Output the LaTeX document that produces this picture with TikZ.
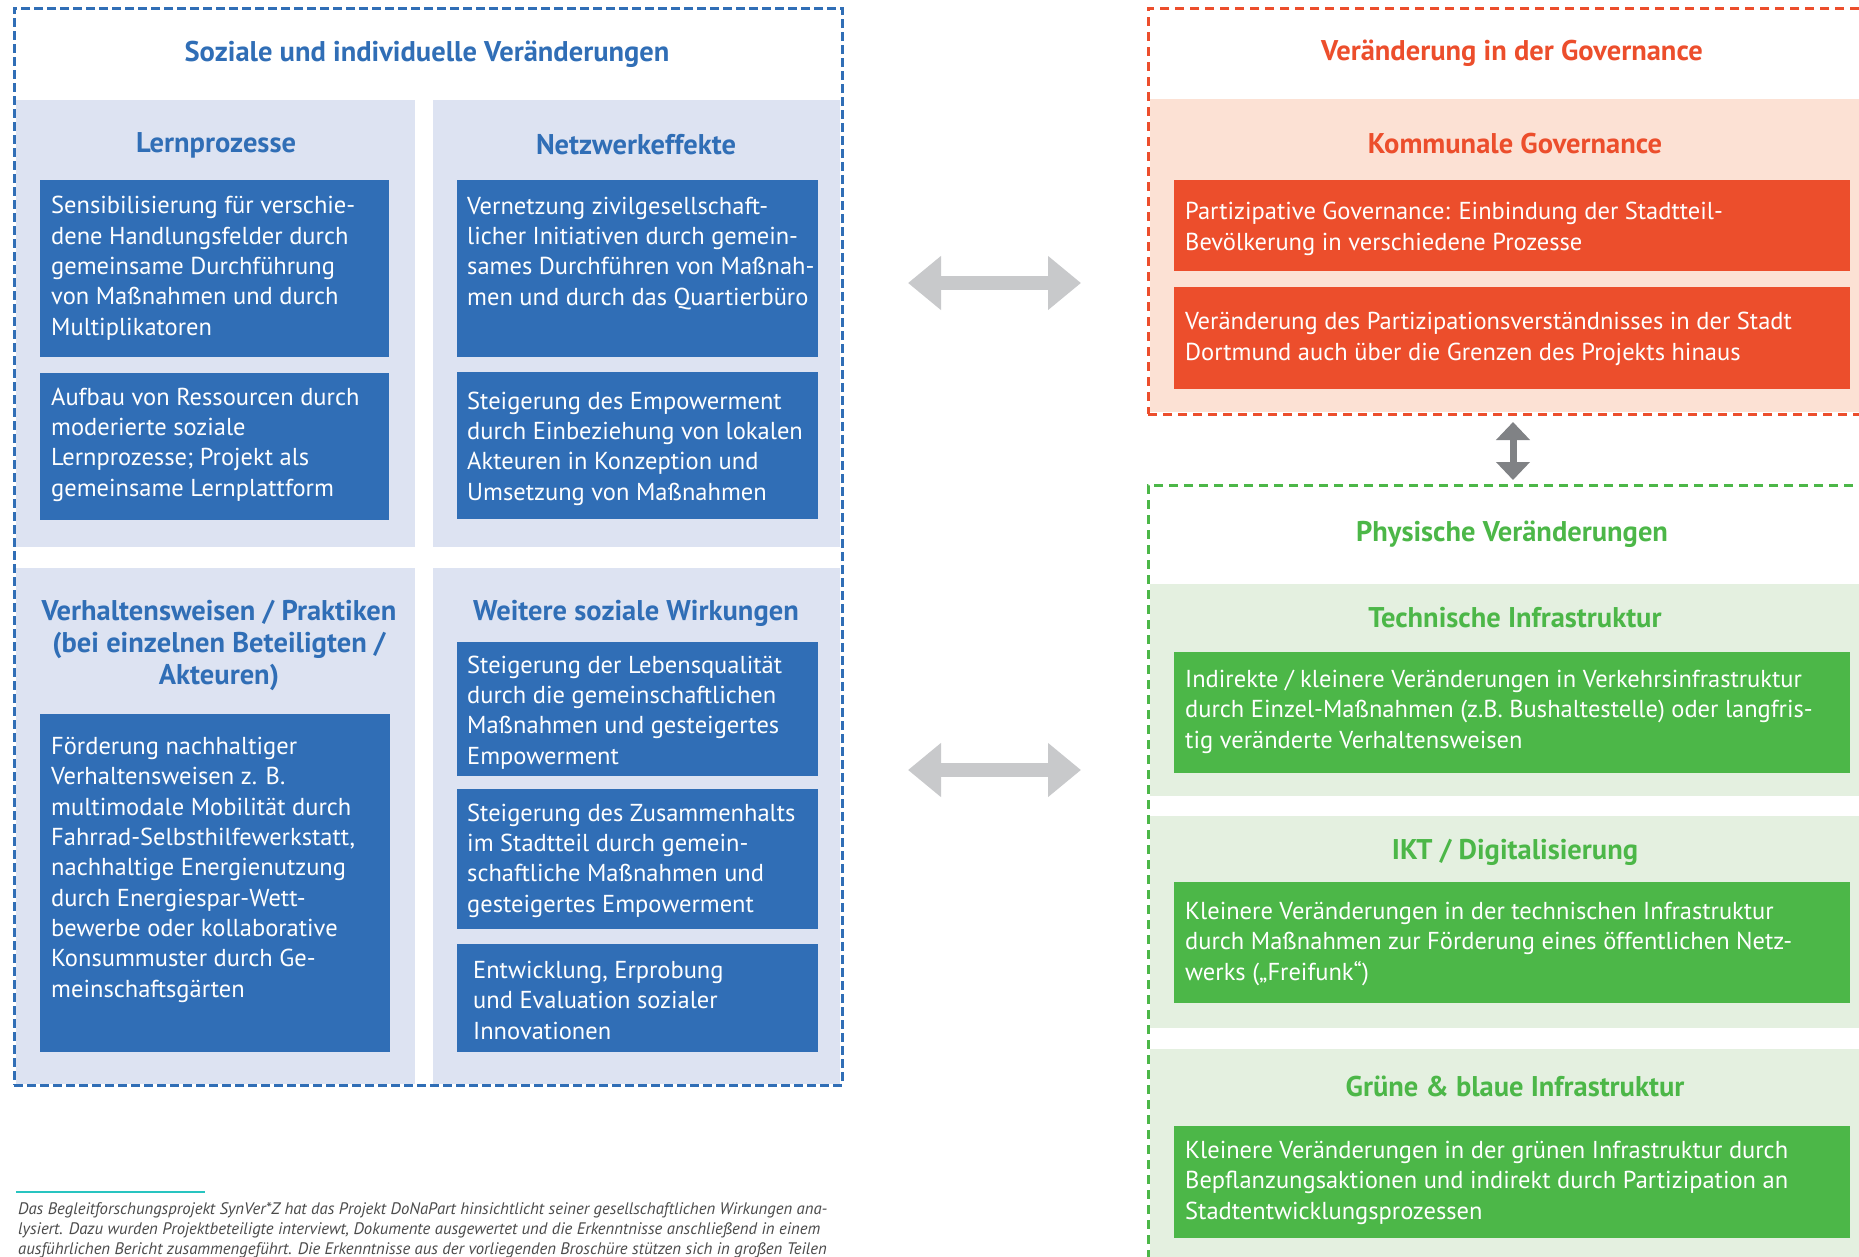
\documentclass[tikz,border=0pt]{standalone}
\usepackage{fontspec}
\setmainfont{PT Sans}
\usetikzlibrary{arrows.meta}

\definecolor{sozBlue}{RGB}{48,110,182}
\definecolor{sozLight}{RGB}{221,227,242}
\definecolor{govRed}{RGB}{236,78,44}
\definecolor{govLight}{RGB}{252,225,212}
\definecolor{phyGreen}{RGB}{76,183,72}
\definecolor{phyLight}{RGB}{228,240,224}
\definecolor{arrowGray}{RGB}{200,201,203}
\definecolor{arrowDark}{RGB}{128,130,133}
\definecolor{lineTeal}{RGB}{40,196,192}
\definecolor{footGray}{RGB}{75,75,75}

\begin{document}
\begin{tikzpicture}[x=1pt, y=-1pt,
    panel/.style={
        anchor=north west,
        inner sep=0pt,
        outer sep=0pt
    },
    frame/.style={
        panel,
        line width=3pt
    },
    block/.style={
        panel,
        minimum width=676pt
    },
    % base = Grundlinie der letzten Zeile
    boxtext/.style={
        anchor=base west,
        inner sep=0pt,
        align=left,
        text=white,
        font=\fontsize{24.5}{30.3}\selectfont
    },
    heading/.style={
        inner sep=0pt,
        align=center,
        font=\bfseries\fontsize{28.5}{32}\selectfont
    },
    bigarrow/.style={
        line width=14pt,
        draw=arrowGray,
        >={Triangle[length=33pt,width=52pt]},
        <->
    }
]
\useasboundingbox (0,0) rectangle (1859,1256);

%%%%%%%%%%%%%%%%%%%%%%%%
% Soziale und individuelle Veraenderungen
%%%%%%%%%%%%%%%%%%%%%%%%

% --- Felder ---
\node[panel, fill=sozLight, minimum width=399pt, minimum height=447pt] (pLern) at (16,100) {};
\node[panel, fill=sozLight, minimum width=407pt, minimum height=447pt] (pNetz) at (433,100) {};
\node[panel, fill=sozLight, minimum width=399pt, minimum height=516pt] (pVerh) at (16,568) {};
\node[panel, fill=sozLight, minimum width=407pt, minimum height=516pt] (pWeit) at (433,568) {};

\node[frame, draw=sozBlue, dash pattern=on 9pt off 4pt,
      minimum width=828pt, minimum height=1077pt] (soziale) at (14,8) {};

% --- Ueberschriften ---
\node[heading, text=sozBlue] (tSoziale) at (427,54) {Soziale und individuelle Veränderungen};
\node[heading, text=sozBlue] (tLern) at (216,145) {Lernprozesse};
\node[heading, text=sozBlue] (tNetz) at (636,145) {Netzwerkeffekte};
\node[heading, text=sozBlue] (tVerh) at (219,645) {Verhaltensweisen / Praktiken\\(bei einzelnen Beteiligten /\\Akteuren)};
\node[heading, text=sozBlue] (tWeit) at (636,613) {Weitere soziale Wirkungen};

% --- Kaesten ---
\node[panel, fill=sozBlue, minimum width=349pt, minimum height=177pt] (lern1) at (40,180) {};
\node[panel, fill=sozBlue, minimum width=349pt, minimum height=147pt] (lern2) at (40,373) {};
\node[panel, fill=sozBlue, minimum width=361pt, minimum height=177pt] (netz1) at (457,180) {};
\node[panel, fill=sozBlue, minimum width=361pt, minimum height=147pt] (netz2) at (457,372) {};
\node[panel, fill=sozBlue, minimum width=350pt, minimum height=338pt] (verh1) at (40,714) {};
\node[panel, fill=sozBlue, minimum width=361pt, minimum height=134pt] (weit1) at (457,642) {};
\node[panel, fill=sozBlue, minimum width=361pt, minimum height=140pt] (weit2) at (457,789) {};
\node[panel, fill=sozBlue, minimum width=361pt, minimum height=108pt] (weit3) at (457,944) {};

\node[boxtext] (lern1t) at (51,335) {Sensibilisierung für verschie-\\dene Handlungsfelder durch\\gemeinsame Durchführung\\von Maßnahmen und durch\\Multiplikatoren};
\node[boxtext] (lern2t) at (51,496) {Aufbau von Ressourcen durch\\moderierte soziale\\Lernprozesse; Projekt als\\gemeinsame Lernplattform};
\node[boxtext] (netz1t) at (467,305) {Vernetzung zivilgesellschaft-\\licher Initiativen durch gemein-\\sames Durchführen von Maßnah-\\men und durch das Quartierbüro};
\node[boxtext] (netz2t) at (467,500) {Steigerung des Empowerment\\durch Einbeziehung von lokalen\\Akteuren in Konzeption und\\Umsetzung von Maßnahmen};
\node[boxtext] (verh1t) at (51,997) {Förderung nachhaltiger\\Verhaltensweisen z. B.\\multimodale Mobilität durch\\Fahrrad-Selbsthilfewerkstatt,\\nachhaltige Energienutzung\\durch Energiespar-Wett-\\bewerbe oder kollaborative\\Konsummuster durch Ge-\\meinschaftsgärten};
\node[boxtext] (weit1t) at (467,764) {Steigerung der Lebensqualität\\durch die gemeinschaftlichen\\Maßnahmen und gesteigertes\\Empowerment};
\node[boxtext] (weit2t) at (467,912) {Steigerung des Zusammenhalts\\im Stadtteil durch gemein-\\schaftliche Maßnahmen und\\gesteigertes Empowerment};
\node[boxtext] (weit3t) at (473,1039) {Entwicklung, Erprobung\\und Evaluation sozialer\\Innovationen};

%%%%%%%%%%%%%%%%%%%%%%%%
% Veraenderung in der Governance
%%%%%%%%%%%%%%%%%%%%%%%%

\node[panel, fill=govLight, minimum width=720pt, minimum height=313pt] (pKomm) at (1150,99) {};
\node[frame, draw=govRed, dash pattern=on 9pt off 6pt,
      minimum width=760pt, minimum height=406pt] (governance) at (1148,8) {};

\node[heading, text=govRed] (tGov) at (1512,53) {Veränderung in der Governance};
\node[heading, text=govRed] (tKomm) at (1515,144) {Kommunale Governance};

\node[block, fill=govRed, minimum height=91pt] (komm1) at (1174,180) {};
\node[block, fill=govRed, minimum height=102pt] (komm2) at (1174,287) {};

\node[boxtext] (komm1t) at (1185,250) {Partizipative Governance: Einbindung der Stadtteil-\\Bevölkerung in verschiedene Prozesse};
\node[boxtext] (komm2t) at (1185,360) {Veränderung des Partizipationsverständnisses in der Stadt\\Dortmund auch über die Grenzen des Projekts hinaus};

%%%%%%%%%%%%%%%%%%%%%%%%
% Physische Veraenderungen
%%%%%%%%%%%%%%%%%%%%%%%%

\node[panel, fill=phyLight, minimum width=720pt, minimum height=212pt] (pTech) at (1150,584) {};
\node[panel, fill=phyLight, minimum width=720pt, minimum height=212pt] (pIkt) at (1150,816) {};
\node[panel, fill=phyLight, minimum width=720pt, minimum height=260pt] (pGruen) at (1150,1049) {};
\node[frame, draw=phyGreen, dash pattern=on 9pt off 6pt,
      minimum width=760pt, minimum height=850pt] (physisch) at (1148,485) {};

\node[heading, text=phyGreen] (tPhy) at (1512,534) {Physische Veränderungen};
\node[heading, text=phyGreen] (tTech) at (1515,618) {Technische Infrastruktur};
\node[heading, text=phyGreen] (tIkt) at (1515,852) {IKT / Digitalisierung};
\node[heading, text=phyGreen] (tGruen) at (1515,1086) {Grüne \& blaue Infrastruktur};

\node[block, fill=phyGreen, minimum height=121pt] (tech1) at (1174,652) {};
\node[block, fill=phyGreen, minimum height=121pt] (ikt1) at (1174,882) {};
\node[block, fill=phyGreen, minimum height=112pt] (gruen1) at (1174,1126) {};

\node[boxtext] (tech1t) at (1185,748) {Indirekte / kleinere Veränderungen in Verkehrsinfrastruktur\\durch Einzel-Maßnahmen (z.B. Bushaltestelle) oder langfris-\\tig veränderte Verhaltensweisen};
\node[boxtext] (ikt1t) at (1185,980) {Kleinere Veränderungen in der technischen Infrastruktur\\durch Maßnahmen zur Förderung eines öffentlichen Netz-\\werks („Freifunk“)};
\node[boxtext] (gruen1t) at (1185,1219) {Kleinere Veränderungen in der grünen Infrastruktur durch\\Bepflanzungsaktionen und indirekt durch Partizipation an\\Stadtentwicklungsprozessen};

%%%%%%%%%%%%%%%%%%%%%%%%
% Pfeile
%%%%%%%%%%%%%%%%%%%%%%%%

\coordinate (pfeilA1) at (908,283);
\coordinate (pfeilA2) at (1081,283);
\coordinate (pfeilB1) at (908,770);
\coordinate (pfeilB2) at (1081,770);
\coordinate (pfeilC1) at (1513,422);
\coordinate (pfeilC2) at (1513,480);

\draw[bigarrow] (pfeilA1) -- (pfeilA2);
\draw[bigarrow] (pfeilB1) -- (pfeilB2);
\draw[bigarrow, line width=7pt, draw=arrowDark,
      >={Triangle[length=18pt,width=33pt]}] (pfeilC1) -- (pfeilC2);

%%%%%%%%%%%%%%%%%%%%%%%%
% Fussnote
%%%%%%%%%%%%%%%%%%%%%%%%

\draw[lineTeal, line width=2.5pt] (16,1192) -- (205,1192);
\node[anchor=base west, inner sep=0pt, align=left, text=footGray,
      font=\itshape\fontsize{16.7}{20}\selectfont] (fussnote) at (18,1254)
    {Das Begleitforschungsprojekt SynVer*Z hat das Projekt DoNaPart hinsichtlicht seiner gesellschaftlichen Wirkungen ana-\\lysiert. Dazu wurden Projektbeteiligte interviewt, Dokumente ausgewertet und die Erkenntnisse anschließend in einem\\ausführlichen Bericht zusammengeführt. Die Erkenntnisse aus der vorliegenden Broschüre stützen sich in großen Teilen};

\end{tikzpicture}
\end{document}
